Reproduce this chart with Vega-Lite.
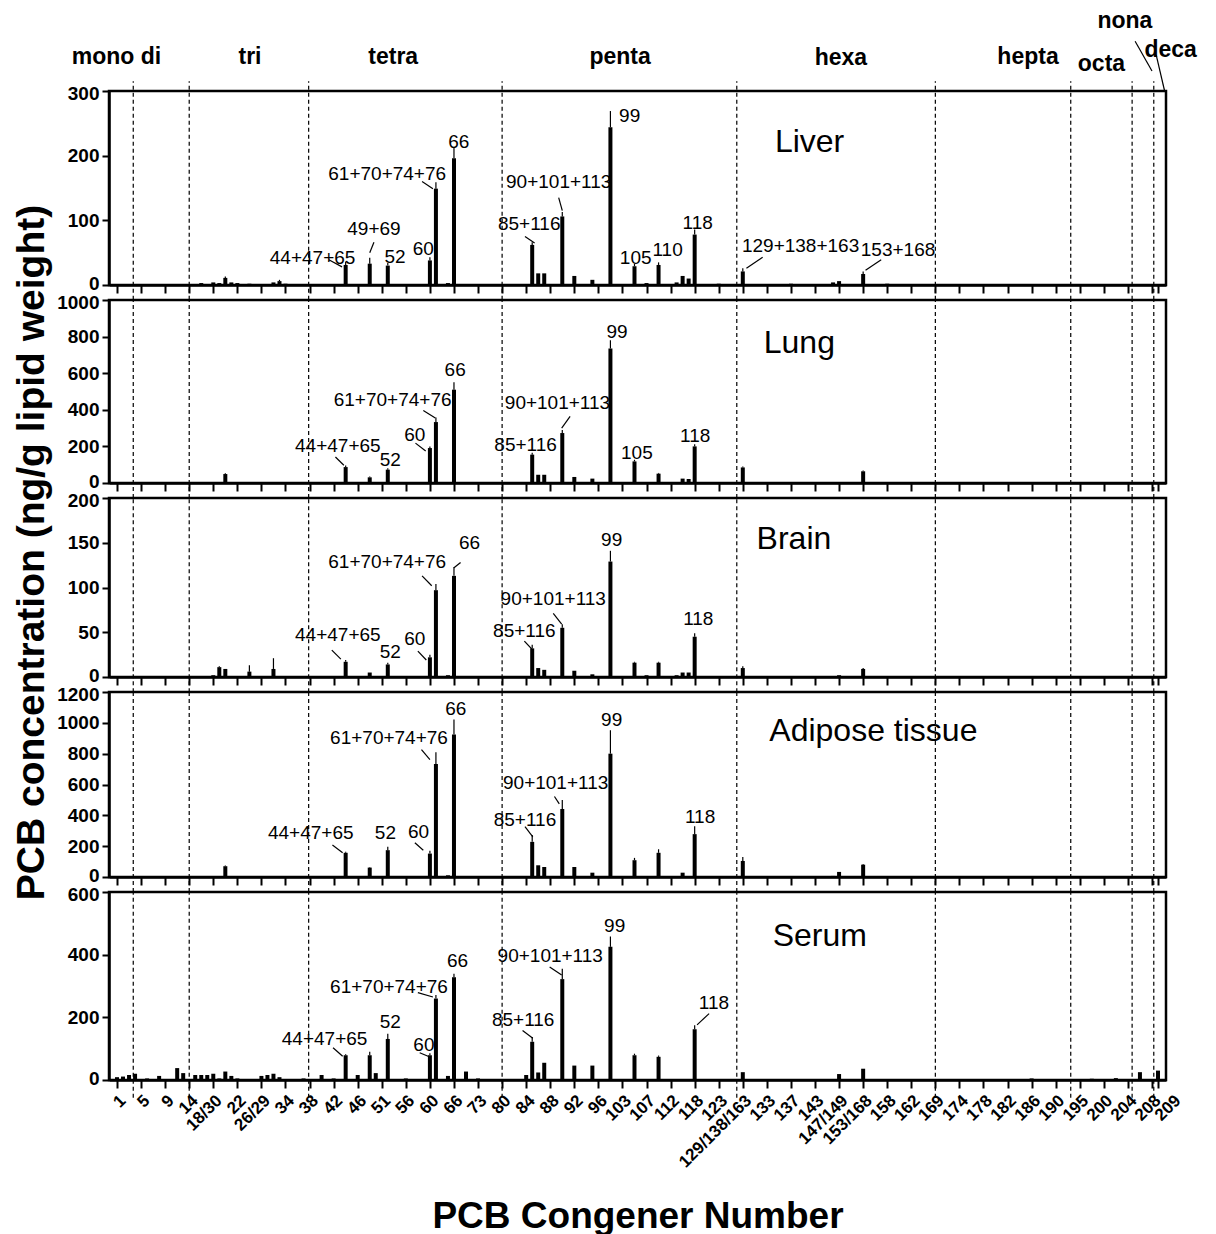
{
 "$schema": "https://vega.github.io/schema/vega-lite/v6.json",
 "background": "white",
 "padding": {"left": 10, "top": 8, "right": 5, "bottom": 5},
 "bounds": "flush",
 "spacing": 15,
 "config": {
  "view": {"stroke": "black", "strokeWidth": 2.5},
  "axis": {"domainColor": "black", "domainWidth": 2.5, "tickColor": "black", "tickWidth": 2, "labelColor": "black", "labelFont": "Liberation Sans", "labelFontWeight": "bold", "titleFont": "Liberation Sans", "titleColor": "black", "grid": false, "labelFlush": false, "labelOverlap": false, "labelBound": false},
  "axisY": {"tickSize": 7, "labelFontSize": 19, "labelPadding": 3, "format": "d"},
  "axisX": {"tickSize": 8, "labelFontSize": 17, "labelAngle": -45, "labelPadding": 4},
  "text": {"font": "Liberation Sans", "color": "black"},
  "rule": {"color": "black"},
  "bar": {"color": "black"}
 },
 "datasets": {
  "groups": [{"pos": 3.7}, {"pos": 13}, {"pos": 32.85}, {"pos": 65}, {"pos": 104}, {"pos": 137}, {"pos": 159.5}, {"pos": 169.7}, {"pos": 173.3}],
  "homologs": [
   {"label": "mono di", "x": 0.9, "y": 353}, {"label": "tri", "x": 23.1, "y": 353}, {"label": "tetra", "x": 46.9, "y": 353},
   {"label": "penta", "x": 84.6, "y": 353}, {"label": "hexa", "x": 121.3, "y": 351}, {"label": "hepta", "x": 152.4, "y": 353},
   {"label": "octa", "x": 164.6, "y": 342}, {"label": "nona", "x": 168.5, "y": 408}, {"label": "deca", "x": 176.1, "y": 363}
  ],
  "homologLines": [{"x1": 170.2, "y1": 377, "x2": 173.0, "y2": 331}, {"x1": 173.7, "y1": 356, "x2": 175.1, "y2": 300}],
  "panels": [
   {"tissue": "Liver", "label": "Liver", "x": 116.1, "y": 221},
   {"tissue": "Lung", "label": "Lung", "x": 114.4, "y": 764},
   {"tissue": "Brain", "label": "Brain", "x": 113.5, "y": 154},
   {"tissue": "Adipose", "label": "Adipose tissue", "x": 126.7, "y": 946},
   {"tissue": "Serum", "label": "Serum", "x": 117.8, "y": 459}
  ],
  "notes": [
   {"tissue": "Liver", "label": "44+47+65", "x": 33.5, "y": 42},
   {"tissue": "Liver", "label": "49+69", "x": 43.7, "y": 87},
   {"tissue": "Liver", "label": "52", "x": 47.2, "y": 44},
   {"tissue": "Liver", "label": "60", "x": 51.9, "y": 55},
   {"tissue": "Liver", "label": "61+70+74+76", "x": 45.9, "y": 171},
   {"tissue": "Liver", "label": "66", "x": 57.8, "y": 221},
   {"tissue": "Liver", "label": "85+116", "x": 69.5, "y": 95},
   {"tissue": "Liver", "label": "90+101+113", "x": 74.4, "y": 159},
   {"tissue": "Liver", "label": "99", "x": 86.2, "y": 262},
   {"tissue": "Liver", "label": "105", "x": 87.2, "y": 41},
   {"tissue": "Liver", "label": "110", "x": 92.5, "y": 54},
   {"tissue": "Liver", "label": "118", "x": 97.5, "y": 96},
   {"tissue": "Liver", "label": "129+138+163", "x": 114.6, "y": 61},
   {"tissue": "Liver", "label": "153+168", "x": 130.8, "y": 54},
   {"tissue": "Lung", "label": "44+47+65", "x": 37.7, "y": 200},
   {"tissue": "Lung", "label": "52", "x": 46.4, "y": 124},
   {"tissue": "Lung", "label": "60", "x": 50.5, "y": 264},
   {"tissue": "Lung", "label": "61+70+74+76", "x": 46.8, "y": 451},
   {"tissue": "Lung", "label": "66", "x": 57.2, "y": 618},
   {"tissue": "Lung", "label": "85+116", "x": 68.9, "y": 209},
   {"tissue": "Lung", "label": "90+101+113", "x": 74.2, "y": 436},
   {"tissue": "Lung", "label": "99", "x": 84.1, "y": 827},
   {"tissue": "Lung", "label": "105", "x": 87.4, "y": 164},
   {"tissue": "Lung", "label": "118", "x": 97.1, "y": 255},
   {"tissue": "Brain", "label": "44+47+65", "x": 37.7, "y": 47},
   {"tissue": "Brain", "label": "52", "x": 46.4, "y": 28},
   {"tissue": "Brain", "label": "60", "x": 50.5, "y": 42},
   {"tissue": "Brain", "label": "61+70+74+76", "x": 45.9, "y": 128},
   {"tissue": "Brain", "label": "66", "x": 59.6, "y": 150},
   {"tissue": "Brain", "label": "85+116", "x": 68.7, "y": 51},
   {"tissue": "Brain", "label": "90+101+113", "x": 73.5, "y": 87},
   {"tissue": "Brain", "label": "99", "x": 83.2, "y": 153},
   {"tissue": "Brain", "label": "118", "x": 97.6, "y": 65},
   {"tissue": "Adipose", "label": "44+47+65", "x": 33.2, "y": 283},
   {"tissue": "Adipose", "label": "52", "x": 45.6, "y": 283},
   {"tissue": "Adipose", "label": "60", "x": 51.1, "y": 293},
   {"tissue": "Adipose", "label": "61+70+74+76", "x": 46.2, "y": 902},
   {"tissue": "Adipose", "label": "66", "x": 57.3, "y": 1087},
   {"tissue": "Adipose", "label": "85+116", "x": 68.8, "y": 370},
   {"tissue": "Adipose", "label": "90+101+113", "x": 73.9, "y": 611},
   {"tissue": "Adipose", "label": "99", "x": 83.2, "y": 1017},
   {"tissue": "Adipose", "label": "118", "x": 97.9, "y": 391},
   {"tissue": "Serum", "label": "44+47+65", "x": 35.5, "y": 130},
   {"tissue": "Serum", "label": "52", "x": 46.4, "y": 185},
   {"tissue": "Serum", "label": "60", "x": 52.0, "y": 111},
   {"tissue": "Serum", "label": "61+70+74+76", "x": 46.2, "y": 298},
   {"tissue": "Serum", "label": "66", "x": 57.6, "y": 380},
   {"tissue": "Serum", "label": "85+116", "x": 68.5, "y": 193},
   {"tissue": "Serum", "label": "90+101+113", "x": 73.0, "y": 397},
   {"tissue": "Serum", "label": "99", "x": 83.7, "y": 493},
   {"tissue": "Serum", "label": "118", "x": 100.2, "y": 245}
  ],
  "leaders": [
   {"tissue": "Liver", "x1": 36.2, "y1": 39, "x2": 38.4, "y2": 28},
   {"tissue": "Liver", "x1": 43.7, "y1": 66, "x2": 43.0, "y2": 50},
   {"tissue": "Liver", "x1": 51.7, "y1": 160, "x2": 53.5, "y2": 149},
   {"tissue": "Liver", "x1": 68.8, "y1": 75, "x2": 70.4, "y2": 65},
   {"tissue": "Liver", "x1": 74.4, "y1": 135, "x2": 75.0, "y2": 115},
   {"tissue": "Liver", "x1": 108.3, "y1": 43, "x2": 105.6, "y2": 26},
   {"tissue": "Liver", "x1": 128.0, "y1": 39, "x2": 125.4, "y2": 23},
   {"tissue": "Lung", "x1": 37.3, "y1": 142, "x2": 38.7, "y2": 97},
   {"tissue": "Lung", "x1": 50.6, "y1": 218, "x2": 52.3, "y2": 175},
   {"tissue": "Lung", "x1": 51.9, "y1": 396, "x2": 53.9, "y2": 355},
   {"tissue": "Lung", "x1": 76.3, "y1": 364, "x2": 74.9, "y2": 300},
   {"tissue": "Brain", "x1": 36.7, "y1": 30, "x2": 38.2, "y2": 20},
   {"tissue": "Brain", "x1": 51.0, "y1": 29, "x2": 52.4, "y2": 19},
   {"tissue": "Brain", "x1": 51.7, "y1": 113, "x2": 53.3, "y2": 102},
   {"tissue": "Brain", "x1": 58.1, "y1": 128, "x2": 57.0, "y2": 122},
   {"tissue": "Brain", "x1": 68.7, "y1": 40, "x2": 70.1, "y2": 30},
   {"tissue": "Brain", "x1": 73.5, "y1": 71, "x2": 74.9, "y2": 59},
   {"tissue": "Adipose", "x1": 36.8, "y1": 207, "x2": 38.5, "y2": 157},
   {"tissue": "Adipose", "x1": 50.5, "y1": 222, "x2": 51.9, "y2": 174},
   {"tissue": "Adipose", "x1": 51.6, "y1": 826, "x2": 53.0, "y2": 761},
   {"tissue": "Adipose", "x1": 68.8, "y1": 326, "x2": 70.1, "y2": 261},
   {"tissue": "Adipose", "x1": 73.7, "y1": 522, "x2": 74.5, "y2": 474},
   {"tissue": "Serum", "x1": 36.9, "y1": 103, "x2": 38.5, "y2": 76},
   {"tissue": "Serum", "x1": 51.3, "y1": 87, "x2": 52.8, "y2": 75},
   {"tissue": "Serum", "x1": 51.0, "y1": 279, "x2": 53.5, "y2": 265},
   {"tissue": "Serum", "x1": 68.4, "y1": 158, "x2": 70.1, "y2": 133},
   {"tissue": "Serum", "x1": 72.9, "y1": 361, "x2": 74.9, "y2": 335},
   {"tissue": "Serum", "x1": 99.4, "y1": 212, "x2": 97.4, "y2": 176}
  ],
  "bars": [
   {"tissue": "Liver", "pos": 15, "value": 3}, {"tissue": "Liver", "pos": 17, "value": 4}, {"tissue": "Liver", "pos": 18, "value": 3},
   {"tissue": "Liver", "pos": 19, "value": 11, "err": 13}, {"tissue": "Liver", "pos": 20, "value": 4}, {"tissue": "Liver", "pos": 21, "value": 3},
   {"tissue": "Liver", "pos": 23, "value": 2}, {"tissue": "Liver", "pos": 27, "value": 4}, {"tissue": "Liver", "pos": 28, "value": 6, "err": 8},
   {"tissue": "Liver", "pos": 29, "value": 2}, {"tissue": "Liver", "pos": 39, "value": 31, "err": 36}, {"tissue": "Liver", "pos": 43, "value": 33, "err": 42},
   {"tissue": "Liver", "pos": 46, "value": 30, "err": 34}, {"tissue": "Liver", "pos": 53, "value": 38, "err": 43}, {"tissue": "Liver", "pos": 54, "value": 149, "err": 159},
   {"tissue": "Liver", "pos": 56, "value": 3}, {"tissue": "Liver", "pos": 57, "value": 196, "err": 213}, {"tissue": "Liver", "pos": 70, "value": 62, "err": 66},
   {"tissue": "Liver", "pos": 71, "value": 18}, {"tissue": "Liver", "pos": 72, "value": 18}, {"tissue": "Liver", "pos": 75, "value": 106, "err": 113},
   {"tissue": "Liver", "pos": 77, "value": 14}, {"tissue": "Liver", "pos": 80, "value": 8}, {"tissue": "Liver", "pos": 83, "value": 244, "err": 269},
   {"tissue": "Liver", "pos": 87, "value": 29, "err": 33}, {"tissue": "Liver", "pos": 89, "value": 3}, {"tissue": "Liver", "pos": 91, "value": 31, "err": 35},
   {"tissue": "Liver", "pos": 94, "value": 4}, {"tissue": "Liver", "pos": 95, "value": 14}, {"tissue": "Liver", "pos": 96, "value": 10},
   {"tissue": "Liver", "pos": 97, "value": 78, "err": 86}, {"tissue": "Liver", "pos": 101, "value": 2}, {"tissue": "Liver", "pos": 105, "value": 21, "err": 26},
   {"tissue": "Liver", "pos": 113, "value": 2}, {"tissue": "Liver", "pos": 120, "value": 4}, {"tissue": "Liver", "pos": 121, "value": 6},
   {"tissue": "Liver", "pos": 125, "value": 17, "err": 21}, {"tissue": "Liver", "pos": 129, "value": 2},

   {"tissue": "Lung", "pos": 11, "value": 3}, {"tissue": "Lung", "pos": 19, "value": 49, "err": 53}, {"tissue": "Lung", "pos": 39, "value": 87, "err": 95},
   {"tissue": "Lung", "pos": 43, "value": 31, "err": 35}, {"tissue": "Lung", "pos": 46, "value": 73, "err": 80}, {"tissue": "Lung", "pos": 53, "value": 191, "err": 200},
   {"tissue": "Lung", "pos": 54, "value": 333, "err": 358}, {"tissue": "Lung", "pos": 56, "value": 3}, {"tissue": "Lung", "pos": 57, "value": 510, "err": 550},
   {"tissue": "Lung", "pos": 69, "value": 3}, {"tissue": "Lung", "pos": 70, "value": 155, "err": 165}, {"tissue": "Lung", "pos": 71, "value": 45},
   {"tissue": "Lung", "pos": 72, "value": 45}, {"tissue": "Lung", "pos": 75, "value": 273, "err": 290}, {"tissue": "Lung", "pos": 77, "value": 33},
   {"tissue": "Lung", "pos": 80, "value": 24}, {"tissue": "Lung", "pos": 83, "value": 735, "err": 780}, {"tissue": "Lung", "pos": 87, "value": 118, "err": 127},
   {"tissue": "Lung", "pos": 89, "value": 3}, {"tissue": "Lung", "pos": 91, "value": 51, "err": 55}, {"tissue": "Lung", "pos": 95, "value": 24},
   {"tissue": "Lung", "pos": 96, "value": 22}, {"tissue": "Lung", "pos": 97, "value": 200, "err": 212}, {"tissue": "Lung", "pos": 105, "value": 85, "err": 90},
   {"tissue": "Lung", "pos": 121, "value": 4}, {"tissue": "Lung", "pos": 125, "value": 64, "err": 68},

   {"tissue": "Brain", "pos": 11, "value": 1}, {"tissue": "Brain", "pos": 15, "value": 1}, {"tissue": "Brain", "pos": 17, "value": 2},
   {"tissue": "Brain", "pos": 18, "value": 11, "err": 12}, {"tissue": "Brain", "pos": 19, "value": 9}, {"tissue": "Brain", "pos": 23, "value": 6, "err": 13},
   {"tissue": "Brain", "pos": 26, "value": 1}, {"tissue": "Brain", "pos": 27, "value": 9, "err": 21}, {"tissue": "Brain", "pos": 29, "value": 1},
   {"tissue": "Brain", "pos": 39, "value": 17, "err": 19}, {"tissue": "Brain", "pos": 43, "value": 5}, {"tissue": "Brain", "pos": 46, "value": 14, "err": 16},
   {"tissue": "Brain", "pos": 53, "value": 22, "err": 25}, {"tissue": "Brain", "pos": 54, "value": 97, "err": 104}, {"tissue": "Brain", "pos": 56, "value": 2},
   {"tissue": "Brain", "pos": 57, "value": 113, "err": 123}, {"tissue": "Brain", "pos": 70, "value": 32, "err": 36}, {"tissue": "Brain", "pos": 71, "value": 10},
   {"tissue": "Brain", "pos": 72, "value": 8}, {"tissue": "Brain", "pos": 75, "value": 55, "err": 59}, {"tissue": "Brain", "pos": 77, "value": 7},
   {"tissue": "Brain", "pos": 80, "value": 3}, {"tissue": "Brain", "pos": 83, "value": 129, "err": 141}, {"tissue": "Brain", "pos": 87, "value": 16, "err": 17},
   {"tissue": "Brain", "pos": 89, "value": 2}, {"tissue": "Brain", "pos": 91, "value": 16, "err": 17}, {"tissue": "Brain", "pos": 94, "value": 2},
   {"tissue": "Brain", "pos": 95, "value": 5}, {"tissue": "Brain", "pos": 96, "value": 5}, {"tissue": "Brain", "pos": 97, "value": 45, "err": 49},
   {"tissue": "Brain", "pos": 105, "value": 10, "err": 12}, {"tissue": "Brain", "pos": 121, "value": 2}, {"tissue": "Brain", "pos": 125, "value": 9, "err": 10},
   {"tissue": "Brain", "pos": 149, "value": 1},

   {"tissue": "Adipose", "pos": 19, "value": 70, "err": 75}, {"tissue": "Adipose", "pos": 39, "value": 157, "err": 163}, {"tissue": "Adipose", "pos": 43, "value": 61, "err": 65},
   {"tissue": "Adipose", "pos": 46, "value": 174, "err": 196}, {"tissue": "Adipose", "pos": 53, "value": 152, "err": 170}, {"tissue": "Adipose", "pos": 54, "value": 733, "err": 809},
   {"tissue": "Adipose", "pos": 55, "value": 3}, {"tissue": "Adipose", "pos": 56, "value": 11}, {"tissue": "Adipose", "pos": 57, "value": 924, "err": 1022},
   {"tissue": "Adipose", "pos": 67, "value": 3}, {"tissue": "Adipose", "pos": 70, "value": 228, "err": 272}, {"tissue": "Adipose", "pos": 71, "value": 76},
   {"tissue": "Adipose", "pos": 72, "value": 65}, {"tissue": "Adipose", "pos": 75, "value": 441, "err": 500}, {"tissue": "Adipose", "pos": 77, "value": 65},
   {"tissue": "Adipose", "pos": 80, "value": 28}, {"tissue": "Adipose", "pos": 83, "value": 800, "err": 952}, {"tissue": "Adipose", "pos": 87, "value": 109, "err": 124},
   {"tissue": "Adipose", "pos": 89, "value": 5}, {"tissue": "Adipose", "pos": 91, "value": 157, "err": 180}, {"tissue": "Adipose", "pos": 94, "value": 5},
   {"tissue": "Adipose", "pos": 95, "value": 28}, {"tissue": "Adipose", "pos": 97, "value": 278, "err": 330}, {"tissue": "Adipose", "pos": 105, "value": 104, "err": 130},
   {"tissue": "Adipose", "pos": 111, "value": 3}, {"tissue": "Adipose", "pos": 120, "value": 7}, {"tissue": "Adipose", "pos": 121, "value": 33},
   {"tissue": "Adipose", "pos": 125, "value": 80, "err": 85}, {"tissue": "Adipose", "pos": 129, "value": 5},

   {"tissue": "Serum", "pos": 1, "value": 9}, {"tissue": "Serum", "pos": 2, "value": 11}, {"tissue": "Serum", "pos": 3, "value": 16},
   {"tissue": "Serum", "pos": 4, "value": 20}, {"tissue": "Serum", "pos": 6, "value": 5}, {"tissue": "Serum", "pos": 8, "value": 13},
   {"tissue": "Serum", "pos": 11, "value": 38}, {"tissue": "Serum", "pos": 12, "value": 22}, {"tissue": "Serum", "pos": 14, "value": 16},
   {"tissue": "Serum", "pos": 15, "value": 16}, {"tissue": "Serum", "pos": 16, "value": 16}, {"tissue": "Serum", "pos": 17, "value": 20},
   {"tissue": "Serum", "pos": 18, "value": 5}, {"tissue": "Serum", "pos": 19, "value": 27}, {"tissue": "Serum", "pos": 20, "value": 13},
   {"tissue": "Serum", "pos": 21, "value": 5}, {"tissue": "Serum", "pos": 25, "value": 13}, {"tissue": "Serum", "pos": 26, "value": 16},
   {"tissue": "Serum", "pos": 27, "value": 20}, {"tissue": "Serum", "pos": 28, "value": 9}, {"tissue": "Serum", "pos": 32, "value": 5},
   {"tissue": "Serum", "pos": 35, "value": 16}, {"tissue": "Serum", "pos": 37, "value": 5}, {"tissue": "Serum", "pos": 39, "value": 79, "err": 82},
   {"tissue": "Serum", "pos": 41, "value": 16}, {"tissue": "Serum", "pos": 43, "value": 79, "err": 90}, {"tissue": "Serum", "pos": 44, "value": 22},
   {"tissue": "Serum", "pos": 46, "value": 131, "err": 148}, {"tissue": "Serum", "pos": 49, "value": 5}, {"tissue": "Serum", "pos": 53, "value": 79, "err": 85},
   {"tissue": "Serum", "pos": 54, "value": 260, "err": 271}, {"tissue": "Serum", "pos": 56, "value": 13}, {"tissue": "Serum", "pos": 57, "value": 328, "err": 339},
   {"tissue": "Serum", "pos": 59, "value": 27}, {"tissue": "Serum", "pos": 61, "value": 5}, {"tissue": "Serum", "pos": 69, "value": 16},
   {"tissue": "Serum", "pos": 70, "value": 122, "err": 137}, {"tissue": "Serum", "pos": 71, "value": 24}, {"tissue": "Serum", "pos": 72, "value": 55},
   {"tissue": "Serum", "pos": 75, "value": 322, "err": 355}, {"tissue": "Serum", "pos": 77, "value": 46}, {"tissue": "Serum", "pos": 80, "value": 46},
   {"tissue": "Serum", "pos": 83, "value": 425, "err": 458}, {"tissue": "Serum", "pos": 87, "value": 79, "err": 84}, {"tissue": "Serum", "pos": 91, "value": 74, "err": 78},
   {"tissue": "Serum", "pos": 97, "value": 162, "err": 175}, {"tissue": "Serum", "pos": 105, "value": 25}, {"tissue": "Serum", "pos": 108, "value": 3},
   {"tissue": "Serum", "pos": 111, "value": 3}, {"tissue": "Serum", "pos": 121, "value": 19}, {"tissue": "Serum", "pos": 125, "value": 36},
   {"tissue": "Serum", "pos": 153, "value": 5}, {"tissue": "Serum", "pos": 157, "value": 3}, {"tissue": "Serum", "pos": 163, "value": 4},
   {"tissue": "Serum", "pos": 167, "value": 6}, {"tissue": "Serum", "pos": 171, "value": 25}, {"tissue": "Serum", "pos": 174, "value": 30}
  ]
 },
 "vconcat": [
  {
   "width": 1057, "height": 194,
   "resolve": {"axis": {"x": "independent", "y": "independent"}},
   "layer": [
    {"data": {"name": "groups"}, "mark": {"type": "rule", "strokeDash": [4, 3], "strokeWidth": 1.2},
     "encoding": {
      "x": {"field": "pos", "type": "quantitative", "title": null, "scale": {"domain": [0.5, 174.5], "nice": false, "zero": false},
            "axis": {"title": null, "labels": false, "labelOverlap": false, "values": [1,5,9,13,17,21,25,29,33,37,41,45,49,53,57,61,65,69,73,77,81,85,89,93,97,101,105,109,113,117,121,125,129,133,137,141,145,149,153,157,161,165,169,173,174]}},
      "y": {"datum": -23, "type": "quantitative", "title": null, "scale": {"domain": [0, 300], "nice": false, "zero": false},
            "axis": {"title": null, "labelOverlap": false, "values": [0, 100, 200, 300], "labelOffset": {"condition": [{"test": "datum.value == 0", "value": -2}, {"test": "datum.value == 300", "value": 2}], "value": 0}}},
      "y2": {"datum": 315}}},
    {"data": {"name": "bars"}, "transform": [{"filter": "datum.tissue == 'Liver'"}], "mark": {"type": "bar", "size": 4},
     "encoding": {"x": {"field": "pos", "type": "quantitative", "axis": null, "scale": {"domain": [0.5, 174.5], "nice": false, "zero": false}},
                  "y": {"field": "value", "type": "quantitative", "axis": null, "scale": {"domain": [0, 300], "nice": false, "zero": false}}}},
    {"data": {"name": "bars"}, "transform": [{"filter": "datum.tissue == 'Liver' && isValid(datum.err)"}], "mark": {"type": "rule", "strokeWidth": 1.2},
     "encoding": {"x": {"field": "pos", "type": "quantitative", "axis": null, "scale": {"domain": [0.5, 174.5], "nice": false, "zero": false}},
                  "y": {"field": "value", "type": "quantitative", "axis": null, "scale": {"domain": [0, 300], "nice": false, "zero": false}}, "y2": {"field": "err"}}},
    {"data": {"name": "notes"}, "transform": [{"filter": "datum.tissue == 'Liver'"}], "mark": {"type": "text", "fontSize": 19},
     "encoding": {"x": {"field": "x", "type": "quantitative", "axis": null, "scale": {"domain": [0.5, 174.5], "nice": false, "zero": false}},
                  "y": {"field": "y", "type": "quantitative", "axis": null, "scale": {"domain": [0, 300], "nice": false, "zero": false}}, "text": {"field": "label"}}},
    {"data": {"name": "leaders"}, "transform": [{"filter": "datum.tissue == 'Liver'"}], "mark": {"type": "rule", "strokeWidth": 1.2},
     "encoding": {"x": {"field": "x1", "type": "quantitative", "axis": null, "scale": {"domain": [0.5, 174.5], "nice": false, "zero": false}}, "x2": {"field": "x2"},
                  "y": {"field": "y1", "type": "quantitative", "axis": null, "scale": {"domain": [0, 300], "nice": false, "zero": false}}, "y2": {"field": "y2"}}},
    {"data": {"name": "panels"}, "transform": [{"filter": "datum.tissue == 'Liver'"}], "mark": {"type": "text", "fontSize": 32},
     "encoding": {"x": {"field": "x", "type": "quantitative", "axis": null, "scale": {"domain": [0.5, 174.5], "nice": false, "zero": false}},
                  "y": {"field": "y", "type": "quantitative", "axis": null, "scale": {"domain": [0, 300], "nice": false, "zero": false}}, "text": {"field": "label"}}},
    {"data": {"name": "homologs"}, "mark": {"type": "text", "fontSize": 23, "fontWeight": "bold"},
     "encoding": {"x": {"field": "x", "type": "quantitative", "axis": null, "scale": {"domain": [0.5, 174.5], "nice": false, "zero": false}},
                  "y": {"field": "y", "type": "quantitative", "axis": null, "scale": {"domain": [0, 300], "nice": false, "zero": false}}, "text": {"field": "label"}}},
    {"data": {"name": "homologLines"}, "mark": {"type": "rule", "strokeWidth": 1.2},
     "encoding": {"x": {"field": "x1", "type": "quantitative", "axis": null, "scale": {"domain": [0.5, 174.5], "nice": false, "zero": false}}, "x2": {"field": "x2"},
                  "y": {"field": "y1", "type": "quantitative", "axis": null, "scale": {"domain": [0, 300], "nice": false, "zero": false}}, "y2": {"field": "y2"}}}
   ]
  },
  {
   "width": 1057, "height": 183,
   "resolve": {"axis": {"x": "independent", "y": "independent"}},
   "layer": [
    {"data": {"name": "groups"}, "mark": {"type": "rule", "strokeDash": [4, 3], "strokeWidth": 1.2},
     "encoding": {
      "x": {"field": "pos", "type": "quantitative", "title": null, "scale": {"domain": [0.5, 174.5], "nice": false, "zero": false},
            "axis": {"title": null, "labels": false, "labelOverlap": false, "values": [1,5,9,13,17,21,25,29,33,37,41,45,49,53,57,61,65,69,73,77,81,85,89,93,97,101,105,109,113,117,121,125,129,133,137,141,145,149,153,157,161,165,169,173,174]}},
      "y": {"datum": -82, "type": "quantitative", "title": null, "scale": {"domain": [0, 1000], "nice": false, "zero": false},
            "axis": {"title": null, "labelOverlap": false, "values": [0, 200, 400, 600, 800, 1000], "labelOffset": {"condition": [{"test": "datum.value == 0", "value": -2}, {"test": "datum.value == 1000", "value": 2}], "value": 0}}},
      "y2": {"datum": 1000}}},
    {"data": {"name": "bars"}, "transform": [{"filter": "datum.tissue == 'Lung'"}], "mark": {"type": "bar", "size": 4},
     "encoding": {"x": {"field": "pos", "type": "quantitative", "axis": null, "scale": {"domain": [0.5, 174.5], "nice": false, "zero": false}},
                  "y": {"field": "value", "type": "quantitative", "axis": null, "scale": {"domain": [0, 1000], "nice": false, "zero": false}}}},
    {"data": {"name": "bars"}, "transform": [{"filter": "datum.tissue == 'Lung' && isValid(datum.err)"}], "mark": {"type": "rule", "strokeWidth": 1.2},
     "encoding": {"x": {"field": "pos", "type": "quantitative", "axis": null, "scale": {"domain": [0.5, 174.5], "nice": false, "zero": false}},
                  "y": {"field": "value", "type": "quantitative", "axis": null, "scale": {"domain": [0, 1000], "nice": false, "zero": false}}, "y2": {"field": "err"}}},
    {"data": {"name": "notes"}, "transform": [{"filter": "datum.tissue == 'Lung'"}], "mark": {"type": "text", "fontSize": 19},
     "encoding": {"x": {"field": "x", "type": "quantitative", "axis": null, "scale": {"domain": [0.5, 174.5], "nice": false, "zero": false}},
                  "y": {"field": "y", "type": "quantitative", "axis": null, "scale": {"domain": [0, 1000], "nice": false, "zero": false}}, "text": {"field": "label"}}},
    {"data": {"name": "leaders"}, "transform": [{"filter": "datum.tissue == 'Lung'"}], "mark": {"type": "rule", "strokeWidth": 1.2},
     "encoding": {"x": {"field": "x1", "type": "quantitative", "axis": null, "scale": {"domain": [0.5, 174.5], "nice": false, "zero": false}}, "x2": {"field": "x2"},
                  "y": {"field": "y1", "type": "quantitative", "axis": null, "scale": {"domain": [0, 1000], "nice": false, "zero": false}}, "y2": {"field": "y2"}}},
    {"data": {"name": "panels"}, "transform": [{"filter": "datum.tissue == 'Lung'"}], "mark": {"type": "text", "fontSize": 32},
     "encoding": {"x": {"field": "x", "type": "quantitative", "axis": null, "scale": {"domain": [0.5, 174.5], "nice": false, "zero": false}},
                  "y": {"field": "y", "type": "quantitative", "axis": null, "scale": {"domain": [0, 1000], "nice": false, "zero": false}}, "text": {"field": "label"}}}
   ]
  },
  {
   "width": 1057, "height": 179,
   "resolve": {"axis": {"x": "independent", "y": "independent"}},
   "layer": [
    {"data": {"name": "groups"}, "mark": {"type": "rule", "strokeDash": [4, 3], "strokeWidth": 1.2},
     "encoding": {
      "x": {"field": "pos", "type": "quantitative", "title": null, "scale": {"domain": [0.5, 174.5], "nice": false, "zero": false},
            "axis": {"title": null, "labels": false, "labelOverlap": false, "values": [1,5,9,13,17,21,25,29,33,37,41,45,49,53,57,61,65,69,73,77,81,85,89,93,97,101,105,109,113,117,121,125,129,133,137,141,145,149,153,157,161,165,169,173,174]}},
      "y": {"datum": -17, "type": "quantitative", "scale": {"domain": [0, 200], "nice": false, "zero": false},
            "axis": {"title": "PCB concentration (ng/g lipid weight)", "titleFontSize": 39, "titleFontWeight": "bold", "titleAngle": -90, "titleX": -58, "titleY": 54, "titleAlign": "center", "titleBaseline": "bottom",
                     "labelOverlap": false, "values": [0, 50, 100, 150, 200], "labelOffset": {"condition": [{"test": "datum.value == 0", "value": -2}, {"test": "datum.value == 200", "value": 2}], "value": 0}}},
      "y2": {"datum": 200}}},
    {"data": {"name": "bars"}, "transform": [{"filter": "datum.tissue == 'Brain'"}], "mark": {"type": "bar", "size": 4},
     "encoding": {"x": {"field": "pos", "type": "quantitative", "axis": null, "scale": {"domain": [0.5, 174.5], "nice": false, "zero": false}},
                  "y": {"field": "value", "type": "quantitative", "axis": null, "scale": {"domain": [0, 200], "nice": false, "zero": false}}}},
    {"data": {"name": "bars"}, "transform": [{"filter": "datum.tissue == 'Brain' && isValid(datum.err)"}], "mark": {"type": "rule", "strokeWidth": 1.2},
     "encoding": {"x": {"field": "pos", "type": "quantitative", "axis": null, "scale": {"domain": [0.5, 174.5], "nice": false, "zero": false}},
                  "y": {"field": "value", "type": "quantitative", "axis": null, "scale": {"domain": [0, 200], "nice": false, "zero": false}}, "y2": {"field": "err"}}},
    {"data": {"name": "notes"}, "transform": [{"filter": "datum.tissue == 'Brain'"}], "mark": {"type": "text", "fontSize": 19},
     "encoding": {"x": {"field": "x", "type": "quantitative", "axis": null, "scale": {"domain": [0.5, 174.5], "nice": false, "zero": false}},
                  "y": {"field": "y", "type": "quantitative", "axis": null, "scale": {"domain": [0, 200], "nice": false, "zero": false}}, "text": {"field": "label"}}},
    {"data": {"name": "leaders"}, "transform": [{"filter": "datum.tissue == 'Brain'"}], "mark": {"type": "rule", "strokeWidth": 1.2},
     "encoding": {"x": {"field": "x1", "type": "quantitative", "axis": null, "scale": {"domain": [0.5, 174.5], "nice": false, "zero": false}}, "x2": {"field": "x2"},
                  "y": {"field": "y1", "type": "quantitative", "axis": null, "scale": {"domain": [0, 200], "nice": false, "zero": false}}, "y2": {"field": "y2"}}},
    {"data": {"name": "panels"}, "transform": [{"filter": "datum.tissue == 'Brain'"}], "mark": {"type": "text", "fontSize": 32},
     "encoding": {"x": {"field": "x", "type": "quantitative", "axis": null, "scale": {"domain": [0.5, 174.5], "nice": false, "zero": false}},
                  "y": {"field": "y", "type": "quantitative", "axis": null, "scale": {"domain": [0, 200], "nice": false, "zero": false}}, "text": {"field": "label"}}}
   ]
  },
  {
   "width": 1057, "height": 185,
   "resolve": {"axis": {"x": "independent", "y": "independent"}},
   "layer": [
    {"data": {"name": "groups"}, "mark": {"type": "rule", "strokeDash": [4, 3], "strokeWidth": 1.2},
     "encoding": {
      "x": {"field": "pos", "type": "quantitative", "title": null, "scale": {"domain": [0.5, 174.5], "nice": false, "zero": false},
            "axis": {"title": null, "labels": false, "labelOverlap": false, "values": [1,5,9,13,17,21,25,29,33,37,41,45,49,53,57,61,65,69,73,77,81,85,89,93,97,101,105,109,113,117,121,125,129,133,137,141,145,149,153,157,161,165,169,173,174]}},
      "y": {"datum": -97, "type": "quantitative", "title": null, "scale": {"domain": [0, 1200], "nice": false, "zero": false},
            "axis": {"title": null, "labelOverlap": false, "values": [0, 200, 400, 600, 800, 1000, 1200], "labelOffset": {"condition": [{"test": "datum.value == 0", "value": -2}, {"test": "datum.value == 1200", "value": 2}], "value": 0}}},
      "y2": {"datum": 1200}}},
    {"data": {"name": "bars"}, "transform": [{"filter": "datum.tissue == 'Adipose'"}], "mark": {"type": "bar", "size": 4},
     "encoding": {"x": {"field": "pos", "type": "quantitative", "axis": null, "scale": {"domain": [0.5, 174.5], "nice": false, "zero": false}},
                  "y": {"field": "value", "type": "quantitative", "axis": null, "scale": {"domain": [0, 1200], "nice": false, "zero": false}}}},
    {"data": {"name": "bars"}, "transform": [{"filter": "datum.tissue == 'Adipose' && isValid(datum.err)"}], "mark": {"type": "rule", "strokeWidth": 1.2},
     "encoding": {"x": {"field": "pos", "type": "quantitative", "axis": null, "scale": {"domain": [0.5, 174.5], "nice": false, "zero": false}},
                  "y": {"field": "value", "type": "quantitative", "axis": null, "scale": {"domain": [0, 1200], "nice": false, "zero": false}}, "y2": {"field": "err"}}},
    {"data": {"name": "notes"}, "transform": [{"filter": "datum.tissue == 'Adipose'"}], "mark": {"type": "text", "fontSize": 19},
     "encoding": {"x": {"field": "x", "type": "quantitative", "axis": null, "scale": {"domain": [0.5, 174.5], "nice": false, "zero": false}},
                  "y": {"field": "y", "type": "quantitative", "axis": null, "scale": {"domain": [0, 1200], "nice": false, "zero": false}}, "text": {"field": "label"}}},
    {"data": {"name": "leaders"}, "transform": [{"filter": "datum.tissue == 'Adipose'"}], "mark": {"type": "rule", "strokeWidth": 1.2},
     "encoding": {"x": {"field": "x1", "type": "quantitative", "axis": null, "scale": {"domain": [0.5, 174.5], "nice": false, "zero": false}}, "x2": {"field": "x2"},
                  "y": {"field": "y1", "type": "quantitative", "axis": null, "scale": {"domain": [0, 1200], "nice": false, "zero": false}}, "y2": {"field": "y2"}}},
    {"data": {"name": "panels"}, "transform": [{"filter": "datum.tissue == 'Adipose'"}], "mark": {"type": "text", "fontSize": 32},
     "encoding": {"x": {"field": "x", "type": "quantitative", "axis": null, "scale": {"domain": [0.5, 174.5], "nice": false, "zero": false}},
                  "y": {"field": "y", "type": "quantitative", "axis": null, "scale": {"domain": [0, 1200], "nice": false, "zero": false}}, "text": {"field": "label"}}}
   ]
  },
  {
   "width": 1057, "height": 188,
   "resolve": {"axis": {"x": "independent", "y": "independent"}},
   "layer": [
    {"data": {"name": "groups"}, "mark": {"type": "rule", "strokeDash": [4, 3], "strokeWidth": 1.2},
     "encoding": {
      "x": {"field": "pos", "type": "quantitative", "scale": {"domain": [0.5, 174.5], "nice": false, "zero": false},
            "axis": {"title": "PCB Congener Number", "titleFontSize": 37, "titleFontWeight": "bold", "titlePadding": 28, "labelOverlap": false,
                     "values": [1,5,9,13,17,21,25,29,33,37,41,45,49,53,57,61,65,69,73,77,81,85,89,93,97,101,105,109,113,117,121,125,129,133,137,141,145,149,153,157,161,165,169,173,174],
                     "labelExpr": "datum.value == 174 ? '209' : ['1','5','9','14','18/30','22','26/29','34','38','42','46','51','56','60','66','73','80','84','88','92','96','103','107','112','118','123','129/138/163','133','137','143','147/149','153/168','158','162','169','174','178','182','186','190','195','200','204','208'][(datum.value - 1) / 4]",
                     "labelOffset": {"condition": {"test": "datum.value == 174", "value": 14}, "value": 0}}},
      "y": {"datum": -57, "type": "quantitative", "title": null, "scale": {"domain": [0, 600], "nice": false, "zero": false},
            "axis": {"title": null, "labelOverlap": false, "values": [0, 200, 400, 600], "labelOffset": {"condition": [{"test": "datum.value == 0", "value": -2}, {"test": "datum.value == 600", "value": 2}], "value": 0}}},
      "y2": {"datum": 600}}},
    {"data": {"name": "bars"}, "transform": [{"filter": "datum.tissue == 'Serum'"}], "mark": {"type": "bar", "size": 4},
     "encoding": {"x": {"field": "pos", "type": "quantitative", "axis": null, "scale": {"domain": [0.5, 174.5], "nice": false, "zero": false}},
                  "y": {"field": "value", "type": "quantitative", "axis": null, "scale": {"domain": [0, 600], "nice": false, "zero": false}}}},
    {"data": {"name": "bars"}, "transform": [{"filter": "datum.tissue == 'Serum' && isValid(datum.err)"}], "mark": {"type": "rule", "strokeWidth": 1.2},
     "encoding": {"x": {"field": "pos", "type": "quantitative", "axis": null, "scale": {"domain": [0.5, 174.5], "nice": false, "zero": false}},
                  "y": {"field": "value", "type": "quantitative", "axis": null, "scale": {"domain": [0, 600], "nice": false, "zero": false}}, "y2": {"field": "err"}}},
    {"data": {"name": "notes"}, "transform": [{"filter": "datum.tissue == 'Serum'"}], "mark": {"type": "text", "fontSize": 19},
     "encoding": {"x": {"field": "x", "type": "quantitative", "axis": null, "scale": {"domain": [0.5, 174.5], "nice": false, "zero": false}},
                  "y": {"field": "y", "type": "quantitative", "axis": null, "scale": {"domain": [0, 600], "nice": false, "zero": false}}, "text": {"field": "label"}}},
    {"data": {"name": "leaders"}, "transform": [{"filter": "datum.tissue == 'Serum'"}], "mark": {"type": "rule", "strokeWidth": 1.2},
     "encoding": {"x": {"field": "x1", "type": "quantitative", "axis": null, "scale": {"domain": [0.5, 174.5], "nice": false, "zero": false}}, "x2": {"field": "x2"},
                  "y": {"field": "y1", "type": "quantitative", "axis": null, "scale": {"domain": [0, 600], "nice": false, "zero": false}}, "y2": {"field": "y2"}}},
    {"data": {"name": "panels"}, "transform": [{"filter": "datum.tissue == 'Serum'"}], "mark": {"type": "text", "fontSize": 32},
     "encoding": {"x": {"field": "x", "type": "quantitative", "axis": null, "scale": {"domain": [0.5, 174.5], "nice": false, "zero": false}},
                  "y": {"field": "y", "type": "quantitative", "axis": null, "scale": {"domain": [0, 600], "nice": false, "zero": false}}, "text": {"field": "label"}}}
   ]
  }
 ]
}
